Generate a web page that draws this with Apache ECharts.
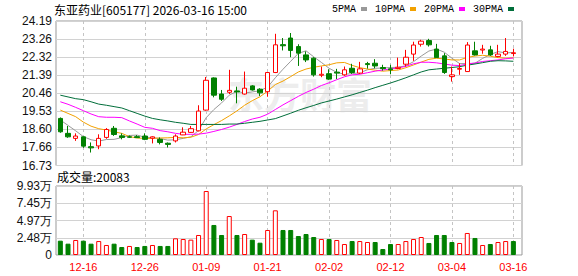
<!DOCTYPE html>
<html><head><meta charset="utf-8">
<script src="https://cdn.jsdelivr.net/npm/echarts@6/dist/echarts.min.js"></script>
<style>html,body{margin:0;padding:0;background:#fff}#c{width:578px;height:276px}</style>
</head><body><div id="c"></div>
<script>
const dates = ['12-11','12-12','12-15','12-16','12-17','12-18','12-19','12-22','12-23','12-24','12-25','12-26','12-29','12-30','12-31','01-05','01-06','01-07','01-08','01-09','01-12','01-13','01-14','01-15','01-16','01-19','01-20','01-21','01-22','01-23','01-26','01-27','01-28','01-29','01-30','02-02','02-03','02-04','02-05','02-06','02-09','02-10','02-11','02-12','02-13','02-24','02-25','02-26','02-27','03-02','03-03','03-04','03-05','03-06','03-09','03-10','03-11','03-12','03-13','03-16'];
const opens  = [19.16,18.39,18.13,18.21,17.70,17.74,18.18,18.65,18.26,18.21,18.22,18.25,18.14,18.08,17.88,18.00,18.31,18.44,18.52,19.59,21.25,20.42,20.51,20.58,20.42,20.84,20.67,20.54,21.53,22.97,23.31,22.87,22.44,22.27,21.39,21.47,21.55,21.41,21.75,21.50,21.99,22.01,21.79,21.72,21.74,21.96,22.48,22.99,23.18,22.74,22.39,21.32,21.70,21.58,22.65,22.69,22.70,22.36,22.48,22.51];
const closes = [18.47,18.21,18.25,17.73,17.64,18.13,18.59,18.33,18.18,18.19,18.17,18.08,18.21,17.92,17.82,18.25,18.45,18.63,19.54,21.13,20.36,20.15,20.61,20.53,20.72,20.63,20.48,21.53,22.96,22.91,22.67,22.53,22.18,21.41,21.44,21.19,21.50,21.67,21.53,21.72,21.94,21.87,21.73,21.67,21.80,22.32,22.95,23.15,22.96,22.30,21.53,21.41,21.74,22.95,22.44,22.74,22.44,22.48,22.62,22.55];
const lows   = [18.42,18.16,18.00,17.64,17.40,17.57,18.11,18.26,18.08,18.15,18.15,18.04,17.87,17.82,17.66,17.92,18.30,18.42,18.49,19.56,20.25,20.06,20.42,19.94,20.39,20.60,20.32,20.28,21.50,22.67,22.32,21.87,22.07,21.32,21.29,21.15,21.19,21.36,21.46,21.45,21.73,21.75,21.63,21.44,21.70,21.84,22.13,22.87,22.87,22.30,21.46,21.06,21.41,21.58,22.41,22.50,22.39,22.32,22.39,22.36];
const highs  = [19.21,18.77,18.39,18.23,17.92,18.34,18.66,18.77,18.39,18.28,18.30,18.39,18.24,18.18,17.92,18.34,18.70,18.77,19.84,21.30,21.28,20.63,21.67,20.80,21.58,20.88,20.72,21.53,23.53,23.31,23.57,22.99,22.62,22.32,21.84,21.70,21.72,21.84,21.98,22.08,22.08,22.22,21.93,21.93,22.30,22.70,23.12,23.22,23.27,23.01,22.53,21.84,22.01,23.10,23.12,22.96,22.91,22.96,23.31,22.76];
const ma5  = [19.08,18.80,18.52,18.22,18.06,17.99,18.07,18.08,18.17,18.28,18.30,18.19,18.17,18.12,18.04,18.06,18.13,18.21,18.54,19.20,19.62,19.96,20.36,20.56,20.47,20.53,20.59,20.78,21.26,21.70,22.11,22.52,22.65,22.34,22.05,21.75,21.54,21.44,21.47,21.52,21.67,21.75,21.76,21.79,21.80,21.88,22.09,22.38,22.64,22.74,22.58,22.27,21.99,21.99,22.01,22.26,22.46,22.61,22.54,22.57];
const ma10 = [19.59,19.42,19.25,18.97,18.76,18.63,18.56,18.47,18.39,18.22,18.15,18.13,18.13,18.15,18.16,18.18,18.16,18.19,18.33,18.62,18.84,19.05,19.29,19.55,19.84,20.08,20.28,20.57,20.91,21.09,21.32,21.56,21.71,21.80,21.87,21.93,22.03,22.05,21.90,21.78,21.71,21.65,21.60,21.63,21.66,21.78,21.92,22.07,22.21,22.27,22.23,22.18,22.18,22.31,22.38,22.42,22.37,22.30,22.27,22.29];
const ma20 = [20.02,19.89,19.73,19.56,19.39,19.25,19.22,19.22,19.20,19.03,18.87,18.70,18.65,18.53,18.47,18.39,18.34,18.34,18.35,18.40,18.49,18.59,18.71,18.85,19.00,19.13,19.22,19.38,19.62,19.86,20.08,20.30,20.50,20.67,20.86,21.00,21.16,21.31,21.41,21.44,21.52,21.60,21.66,21.71,21.77,21.85,21.98,22.06,22.06,22.03,21.97,21.91,21.89,21.97,22.02,22.10,22.14,22.18,22.24,22.28];
const ma30 = [20.36,20.27,20.18,20.13,20.02,19.90,19.84,19.77,19.70,19.56,19.42,19.28,19.16,19.09,19.03,18.96,18.91,18.85,18.85,18.85,18.85,18.85,18.87,18.87,18.91,18.96,19.01,19.08,19.15,19.29,19.43,19.58,19.71,19.83,19.96,20.06,20.16,20.27,20.38,20.50,20.62,20.75,20.87,20.99,21.12,21.26,21.41,21.56,21.67,21.71,21.75,21.79,21.83,21.91,21.97,22.04,22.11,22.14,22.13,22.11];
const volumes = [20600,16300,21600,20600,16300,20100,14400,16300,11500,13000,11500,13000,14400,13000,13000,24000,23000,22100,28800,92100,43200,28800,56100,28800,30200,22100,17700,36000,64300,36000,36000,27300,30200,25900,23000,23000,21600,15800,20100,20100,18700,18700,8600,15800,15800,20100,23000,25900,17300,28800,28800,18700,17300,31700,24500,14400,15800,18700,20100,20083];
const priceTickLabels = ['16.73','17.66','18.60','19.53','20.46','21.39','22.32','23.26','24.19'];
const volTickValues = [0,24825,49650,74475,99300];
const volTickLabels = ['0','2.48万','4.97万','7.45万','9.93万'];
const labelDates = ['12-16','12-26','01-09','01-21','02-02','02-12','03-04','03-16'];
const maNames = ['5PMA','10PMA','20PMA','30PMA'];

const UP = '#ff0000', DOWN = '#008000';
const maColors = ['#999999','#f2a100','#ff00ff','#006e3a'];
const kData = dates.map((d, i) => [opens[i], closes[i], lows[i], highs[i]]);
const volData = volumes.map((v, i) => {
  const up = i === 0 ? closes[i] >= opens[i] : closes[i] >= closes[i - 1];
  return { value: v, itemStyle: up ? { color: '#fff', borderColor: UP, borderWidth: 1 } : { color: DOWN, borderColor: DOWN, borderWidth: 1 } };
});
const pMin = parseFloat(priceTickLabels[0]), pMax = parseFloat(priceTickLabels[priceTickLabels.length - 1]);
const pInt = (pMax - pMin) / (priceTickLabels.length - 1);
function nearestLabel(v, vals, labels) {
  let bi = 0;
  for (let i = 1; i < vals.length; i++) if (Math.abs(vals[i] - v) < Math.abs(vals[bi] - v)) bi = i;
  return labels[bi];
}
const priceVals = priceTickLabels.map(parseFloat);

// layout
const frameL = 56, frameR = 56;
const dataL = 56.5, dataW = 460.7;
const pTop = 21, pH = 144.5, vTop = 186, vH = 69;
const n = dates.length;
const firstIdx = dates.indexOf(labelDates[0]);
const lastIdx = dates.indexOf(labelDates[labelDates.length - 1]);
const step = dates.indexOf(labelDates[1]) - firstIdx;
const band = dataW / n;
const dashL = dataL + (firstIdx + 0.5) * band;
const dashW = (lastIdx - firstIdx) * band;

const font = 'Liberation Sans, Arial, sans-serif';
const hiddenY = (gi, min, max) => ({ type: 'value', gridIndex: gi, min, max, show: false, splitLine: { show: false } });
const dashX = gi => ({
  type: 'value', gridIndex: gi, min: 0, max: lastIdx - firstIdx, interval: step, show: true,
  axisLine: { show: false }, axisTick: { show: false }, axisLabel: { show: false },
  splitLine: { show: true, lineStyle: { color: '#c4c4c4', type: [3, 3], width: 1 } }
});

const chart = echarts.init(document.getElementById('c'), null, { renderer: 'svg' });
chart.setOption({
  animation: false,
  backgroundColor: '#fff',
  title: [
    { text: '东亚药业[605177] 2026-03-16 15:00', left: 54, top: 3, padding: 0,
      textStyle: { fontSize: 12, fontWeight: 'normal', color: '#000', fontFamily: '"Noto Sans CJK SC", sans-serif' } },
    { text: '成交量:' + volumes[volumes.length - 1], left: 57, top: 170, padding: 0,
      textStyle: { fontSize: 12, fontWeight: 'normal', color: '#000', fontFamily: '"Noto Sans CJK SC", sans-serif' } }
  ],
  legend: {
    top: 4, right: 64, padding: 0, itemGap: 8, itemWidth: 6, itemHeight: 4, icon: 'rect', align: 'right',
    selectedMode: false, data: maNames,
    textStyle: { fontSize: 10, color: '#000', fontFamily: '"Liberation Mono", monospace' }
  },
  graphic: [{
    type: 'text', left: 228, top: 75, z: -1, silent: true,
    style: { text: '东方财富', fontSize: 36, fontWeight: 'bold', fill: '#ededed', fontFamily: '"Noto Sans CJK SC", sans-serif' }
  }],
  grid: [
    { left: frameL, right: frameR, top: pTop, height: pH, show: true, borderColor: '#999', borderWidth: 1, backgroundColor: 'transparent', outerBoundsMode: 'none' },
    { left: dataL, width: dataW, top: pTop, height: pH, outerBoundsMode: 'none' },
    { left: frameL, right: frameR, top: vTop, height: vH, show: true, borderColor: '#999', borderWidth: 1, backgroundColor: 'transparent', outerBoundsMode: 'none' },
    { left: dataL, width: dataW, top: vTop, height: vH, outerBoundsMode: 'none' },
    { left: dashL, width: dashW, top: pTop, height: pH, outerBoundsMode: 'none' },
    { left: dashL, width: dashW, top: vTop, height: vH, outerBoundsMode: 'none' }
  ],
  xAxis: [
    { type: 'value', gridIndex: 0, show: false, min: 0, max: 1 },
    { type: 'category', gridIndex: 1, data: dates, show: false, boundaryGap: true },
    { type: 'value', gridIndex: 2, show: false, min: 0, max: 1 },
    { type: 'category', gridIndex: 3, data: dates, boundaryGap: true,
      axisLine: { show: false }, axisTick: { show: false }, splitLine: { show: false },
      axisLabel: { interval: (i, v) => labelDates.indexOf(v) >= 0, color: '#ff0000', fontSize: 11, margin: 6, fontFamily: font } },
    dashX(4),
    dashX(5)
  ],
  yAxis: [
    { type: 'value', gridIndex: 0, min: pMin, max: pMax, interval: pInt,
      axisLine: { show: false }, axisTick: { show: false },
      axisLabel: { formatter: v => nearestLabel(v, priceVals, priceTickLabels), color: '#111', fontSize: 12, margin: 4, fontFamily: font },
      splitLine: { lineStyle: { color: '#d2d2d2', width: 1 } } },
    hiddenY(1, pMin, pMax),
    { type: 'value', gridIndex: 2, min: volTickValues[0], max: volTickValues[volTickValues.length - 1], interval: volTickValues[1] - volTickValues[0],
      axisLine: { show: false }, axisTick: { show: false },
      axisLabel: { formatter: v => nearestLabel(v, volTickValues, volTickLabels), color: '#111', fontSize: 12, margin: 4, fontFamily: font },
      splitLine: { lineStyle: { color: '#d2d2d2', width: 1 } } },
    hiddenY(3, volTickValues[0], volTickValues[volTickValues.length - 1]),
    hiddenY(4, 0, 1),
    hiddenY(5, 0, 1)
  ],
  series: [
    { name: 'K', type: 'candlestick', xAxisIndex: 1, yAxisIndex: 1, data: kData, barWidth: 5, z: 5,
      itemStyle: { color: '#ffffff', color0: DOWN, borderColor: UP, borderColor0: DOWN, borderWidth: 1 } },
    ...[ma5, ma10, ma20, ma30].map((d, k) => ({
      name: maNames[k], type: 'line', xAxisIndex: 1, yAxisIndex: 1, data: d, symbol: 'none', z: 3,
      lineStyle: { color: maColors[k], width: 1 }, itemStyle: { color: maColors[k] }
    })),
    { name: 'VOL', type: 'bar', xAxisIndex: 3, yAxisIndex: 3, data: volData, barWidth: 5, z: 5 }
  ]
});
</script></body></html>
